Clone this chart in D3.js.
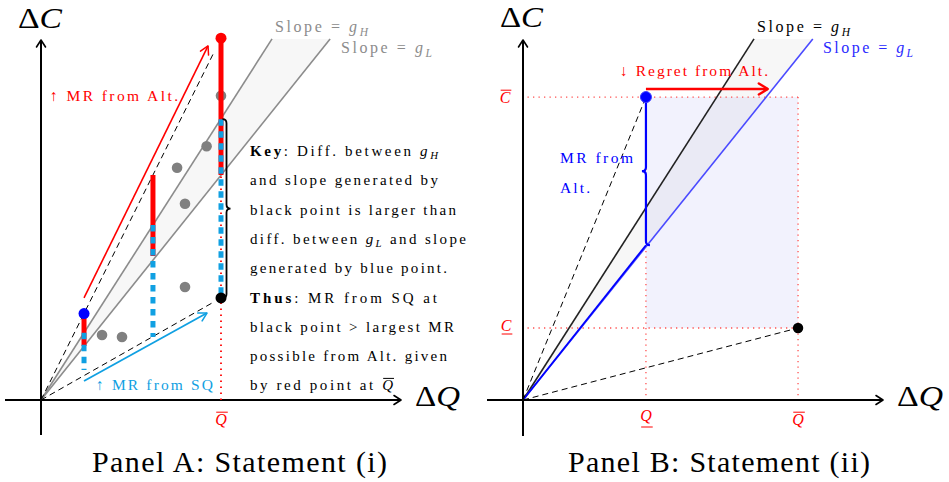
<!DOCTYPE html>
<html><head><meta charset="utf-8">
<script src="https://cdn.jsdelivr.net/npm/d3@7"></script>
<style>body{margin:0;background:#fff}svg{display:block}text{white-space:pre;font-family:"Liberation Serif","DejaVu Serif",serif}</style>
</head><body><svg id="c" width="949" height="482"></svg>
<script>
// ---------------- Data ----------------
const slopeLabels = ["H", "L"];
const slopesA = [1.563, 1.249];          // g_H, g_L in panel A
const slopesB = [1.563, 1.246];          // g_H, g_L in panel B
const lineTopC = 20.06;                  // where the slope lines stop
// Panel A
const qBarA = [2.39, 6.22, 10];
const redTopA = [4.8, 12.5, 20.1];
const redBottomA = [3.0, 8.0, 12.5];
const blueTopA = [3.74, 9.72, 15.6];
const blueBottomA = [1.67, 3.5, 5.67];
const grayQ = [10, 9.2, 7.56, 8.0, 8.0, 3.39, 4.5];
const grayC = [16.9, 14.1, 12.9, 10.9, 6.28, 3.61, 3.5];
const redPointA = [10, 20.1];
const bluePointA = [2.39, 4.8];
const blackPointA = [10, 5.67];
const mrAltArrow = [[2.39, 5.67], [9.28, 19.67]];
const mrSqArrow = [[2.39, 1.06], [9.22, 4.83]];
const qBarLabelA = 10;
const keyLines = [
  [{t:"Key", b:true}, ": Diff. between ", {t:"g", it:true}, {t:"H", it:true, sub:true}],
  ["and slope generated by"],
  ["black point is larger than"],
  ["diff. between ", {t:"g", it:true}, {t:"L", it:true, sub:true}, " and slope"],
  ["generated by blue point."],
  [{t:"Thus", b:true}, ": MR from SQ at"],
  ["black point > largest MR"],
  ["possible from Alt. given"],
  ["by red point at ", {t:"Q", it:true, over:true}]
];
const keyWidths = [188, 188, 206, 216, 197, 187, 204, 197, 143];
// Panel B
const qLowB = 6.83, qHighB = 15.28;
const cLowB = 4.0, cHighB = 16.83;
const bluePointB = [6.83, 16.83];
const blackPointB = [15.28, 4.0];
const mrAltB = [16.83, 8.6];
const regretArrow = [[6.83, 17.28], [13.6, 17.28]];

// ---------------- Setup ----------------
const svg = d3.select("#c");
const defs = svg.append("defs");
function marker(id, color, len, half, sw) {
  defs.append("marker").attr("id", id)
    .attr("viewBox", `${-len-2} ${-half-2} ${len+4} ${2*half+4}`)
    .attr("refX", 0).attr("refY", 0)
    .attr("markerWidth", len+4).attr("markerHeight", 2*half+4)
    .attr("markerUnits", "userSpaceOnUse").attr("orient", "auto")
    .append("path").attr("d", `M${-len},${-half} L0,0 L${-len},${half}`)
    .attr("fill", "none").attr("stroke", color).attr("stroke-width", sw)
    .attr("stroke-linecap", "round").attr("stroke-linejoin", "round");
}
marker("axArr", "#000", 7, 4.5, 1.6);
marker("redArr", "#ff0000", 8, 4.5, 1.5);
marker("cyanArr", "#10a0e2", 8, 4.5, 1.6);
marker("redArrB", "#ff0000", 9, 5.5, 2.4);

function rich(g, x, y, parts, o) {
  const t = g.append("text").attr("x", x).attr("y", y)
    .style("font-size", o.size + "px")
    .attr("fill", o.color || "#000");
  if (o.anchor) t.attr("text-anchor", o.anchor);
  let shift = 0, idx = 0;
  const marks = [];
  parts.forEach(p => {
    const s = typeof p === "string" ? {t: p} : p;
    const target = s.sub ? o.size * 0.22 : 0;
    const ts = t.append("tspan").text(s.t).attr("dy", target - shift);
    shift = target;
    if (s.it) ts.style("font-style", "italic");
    if (s.b) ts.style("font-weight", "bold");
    if (s.sub) ts.style("font-size", (o.size * 0.72) + "px");
    if (s.over || s.under) marks.push({i: idx, over: !!s.over});
    idx += [...s.t].length;
  });
  if (o.width) t.attr("textLength", o.width).attr("lengthAdjust", o.adjust || "spacing");
  marks.forEach(m => {
    const e = t.node().getExtentOfChar(m.i);
    const ly = m.over ? y - o.size * 0.8 : y + (o.ul || o.size * 0.22);
    g.append("line").attr("x1", e.x + 1).attr("x2", e.x + e.width + 1)
      .attr("y1", ly).attr("y2", ly)
      .attr("stroke", o.color || "#000").attr("stroke-width", 1);
  });
  return t;
}

function brace(x, y1, y2, d, w) {
  const ym = (y1 + y2) / 2;
  return `M${x - d*w},${y1} Q${x},${y1} ${x},${y1 + w} L${x},${ym - w} Q${x},${ym} ${x + d*w},${ym} ` +
         `Q${x},${ym} ${x},${ym + w} L${x},${y2 - w} Q${x},${y2} ${x - d*w},${y2}`;
}

function axes(g, x, y, xmin, ymin) {
  g.append("line").attr("x1", x(xmin)).attr("x2", x(20)).attr("y1", y(0)).attr("y2", y(0))
    .attr("stroke", "#000").attr("stroke-width", 2).attr("marker-end", "url(#axArr)");
  g.append("line").attr("x1", x(0)).attr("x2", x(0)).attr("y1", y(ymin)).attr("y2", y(20))
    .attr("stroke", "#000").attr("stroke-width", 2).attr("marker-end", "url(#axArr)");
}

// ---------------- Panel A ----------------
const xA = d3.scaleLinear().domain([0, 20]).range([41, 401]);
const yA = d3.scaleLinear().domain([0, 20]).range([400, 40]);
const gA = svg.append("g");

gA.append("path")
  .attr("d", d3.line()([[xA(0), yA(0)], [xA(lineTopC / slopesA[0]), yA(lineTopC)], [xA(lineTopC / slopesA[1]), yA(lineTopC)]]) + "Z")
  .attr("fill", "#f7f7f7");
slopesA.forEach(s => {
  gA.append("line").attr("x1", xA(0)).attr("y1", yA(0))
    .attr("x2", xA(lineTopC / s)).attr("y2", yA(lineTopC))
    .attr("stroke", "#8c8c8c").attr("stroke-width", 1.6);
});
[redPointA, blackPointA].forEach((p, i) => {
  const f = i === 0 ? 0.955 : 0.96;
  gA.append("line").attr("x1", xA(0)).attr("y1", yA(0))
    .attr("x2", xA(p[0] * f)).attr("y2", yA(p[1] * f))
    .attr("stroke", "#000").attr("stroke-width", 1).attr("stroke-dasharray", "6,4");
});
axes(gA, xA, yA, -2, -1.94);
gA.append("line").attr("x1", xA(qBarLabelA)).attr("x2", xA(qBarLabelA))
  .attr("y1", yA(0)).attr("y2", yA(redPointA[1]))
  .attr("stroke", "#ff0000").attr("stroke-width", 1.8).attr("stroke-dasharray", "1.5,4.5");
gA.selectAll(".gd").data(grayQ).enter().append("circle")
  .attr("cx", (d) => xA(d)).attr("cy", (d, i) => yA(grayC[i])).attr("r", 5.3).attr("fill", "#808080");
qBarA.forEach((q, i) => {
  gA.append("line").attr("x1", xA(q)).attr("x2", xA(q))
    .attr("y1", yA(redTopA[i])).attr("y2", yA(redBottomA[i]))
    .attr("stroke", "#ff0000").attr("stroke-width", 5);
});
qBarA.forEach((q, i) => {
  gA.append("line").attr("x1", xA(q)).attr("x2", xA(q))
    .attr("y1", yA(blueTopA[i])).attr("y2", yA(blueBottomA[i]))
    .attr("stroke", "#10a0e2").attr("stroke-width", 5).attr("stroke-dasharray", "6.5,5.5");
});
gA.append("path").attr("d", brace(xA(qBarLabelA) + 5.5, yA(blueTopA[2]), yA(blackPointA[1]), 1, 4))
  .attr("fill", "none").attr("stroke", "#000").attr("stroke-width", 1.8);
gA.append("circle").attr("cx", xA(redPointA[0])).attr("cy", yA(redPointA[1])).attr("r", 5.5).attr("fill", "#ff0000");
gA.append("circle").attr("cx", xA(bluePointA[0])).attr("cy", yA(bluePointA[1])).attr("r", 5.5).attr("fill", "#0000ff");
gA.append("circle").attr("cx", xA(blackPointA[0])).attr("cy", yA(blackPointA[1])).attr("r", 5.5).attr("fill", "#000");
gA.append("line").attr("x1", xA(mrAltArrow[0][0])).attr("y1", yA(mrAltArrow[0][1]))
  .attr("x2", xA(mrAltArrow[1][0])).attr("y2", yA(mrAltArrow[1][1]))
  .attr("stroke", "#ff0000").attr("stroke-width", 1.6).attr("marker-end", "url(#redArr)");
gA.append("line").attr("x1", xA(mrSqArrow[0][0])).attr("y1", yA(mrSqArrow[0][1]))
  .attr("x2", xA(mrSqArrow[1][0])).attr("y2", yA(mrSqArrow[1][1]))
  .attr("stroke", "#10a0e2").attr("stroke-width", 1.8).attr("marker-end", "url(#cyanArr)");
rich(gA, 18, 28, ["Δ", {t:"C", it:true}], {size: 29, width: 44, adjust: "spacingAndGlyphs"});
rich(gA, 415, 406, ["Δ", {t:"Q", it:true}], {size: 29, width: 45, adjust: "spacingAndGlyphs"});
rich(gA, 275, 32, ["Slope = ", {t:"g", it:true}, {t:slopeLabels[0], it:true, sub:true}], {size: 16, width: 93, color: "#8c8c8c"});
rich(gA, 341, 53, ["Slope = ", {t:"g", it:true}, {t:slopeLabels[1], it:true, sub:true}], {size: 16, width: 91, color: "#8c8c8c"});
rich(gA, 50, 101, ["↑ MR from Alt."], {size: 15.5, width: 128, color: "#ff0000"});
rich(gA, 96, 390, ["↑ MR from SQ"], {size: 15.5, width: 117, color: "#10a0e2"});
keyLines.forEach((ln, i) => {
  rich(gA, 250, 156 + i * 29.3, ln, {size: 15, width: keyWidths[i]});
});
rich(gA, xA(qBarLabelA), 425, [{t:"Q", it:true, over:true}], {size: 16, anchor: "middle", color: "#ff0000"});
rich(gA, 92, 472, ["Panel A: Statement (i)"], {size: 30, width: 295});

// ---------------- Panel B ----------------
const xB = d3.scaleLinear().domain([0, 20]).range([523, 883]);
const yB = d3.scaleLinear().domain([0, 20]).range([400, 40]);
const gB = svg.append("g");

gB.append("rect").attr("x", xB(qLowB)).attr("y", yB(cHighB))
  .attr("width", xB(qHighB) - xB(qLowB)).attr("height", yB(cLowB) - yB(cHighB))
  .attr("fill", "#f2f2fd");
gB.append("path")
  .attr("d", d3.line()([[xB(0), yB(0)], [xB(lineTopC / slopesB[0]), yB(lineTopC)], [xB(lineTopC / slopesB[1]), yB(lineTopC)]]) + "Z")
  .attr("fill", "rgba(0,0,0,0.03)");
const dotted = (x1, y1, x2, y2) => gB.append("line").attr("x1", x1).attr("y1", y1).attr("x2", x2).attr("y2", y2)
  .attr("stroke", "#ff5050").attr("stroke-width", 1.3).attr("stroke-dasharray", "1.3,4.2");
dotted(xB(0.25), yB(cHighB), xB(qHighB), yB(cHighB));
dotted(xB(0.25), yB(cLowB), xB(qHighB), yB(cLowB));
dotted(xB(qLowB), yB(cHighB), xB(qLowB), yB(0));
dotted(xB(qHighB), yB(cHighB), xB(qHighB), yB(0));
gB.append("line").attr("x1", xB(0)).attr("y1", yB(0)).attr("x2", xB(lineTopC / slopesB[0])).attr("y2", yB(lineTopC))
  .attr("stroke", "#222").attr("stroke-width", 1.6);
gB.append("line").attr("x1", xB(0)).attr("y1", yB(0)).attr("x2", xB(lineTopC / slopesB[1])).attr("y2", yB(lineTopC))
  .attr("stroke", "#4a4aff").attr("stroke-width", 1.6);
gB.append("line").attr("x1", xB(0)).attr("y1", yB(0)).attr("x2", xB(qLowB)).attr("y2", yB(mrAltB[1]))
  .attr("stroke", "#0000ff").attr("stroke-width", 1.8);
[bluePointB, blackPointB].forEach(p => {
  gB.append("line").attr("x1", xB(0)).attr("y1", yB(0)).attr("x2", xB(p[0])).attr("y2", yB(p[1]))
    .attr("stroke", "#000").attr("stroke-width", 1).attr("stroke-dasharray", "6,4");
});
axes(gB, xB, yB, -2, -2);
gB.append("path").attr("d", brace(xB(qLowB), yB(mrAltB[0]), yB(mrAltB[1]), -1, 4))
  .attr("fill", "none").attr("stroke", "#0000ff").attr("stroke-width", 2.2);
gB.append("line").attr("x1", xB(regretArrow[0][0])).attr("y1", yB(regretArrow[0][1]))
  .attr("x2", xB(regretArrow[1][0])).attr("y2", yB(regretArrow[1][1]))
  .attr("stroke", "#ff0000").attr("stroke-width", 2.6).attr("marker-end", "url(#redArrB)");
gB.append("circle").attr("cx", xB(bluePointB[0])).attr("cy", yB(bluePointB[1])).attr("r", 5.5)
  .attr("fill", "#0000ff").attr("stroke", "#3a3aff").attr("stroke-width", 1);
gB.append("circle").attr("cx", xB(blackPointB[0])).attr("cy", yB(blackPointB[1])).attr("r", 5.2).attr("fill", "#000");
rich(gB, 500, 27, ["Δ", {t:"C", it:true}], {size: 29, width: 43, adjust: "spacingAndGlyphs"});
rich(gB, 897, 406, ["Δ", {t:"Q", it:true}], {size: 29, width: 46, adjust: "spacingAndGlyphs"});
rich(gB, 757, 32, ["Slope = ", {t:"g", it:true}, {t:slopeLabels[0], it:true, sub:true}], {size: 16, width: 93, color: "#000"});
rich(gB, 823, 53, ["Slope = ", {t:"g", it:true}, {t:slopeLabels[1], it:true, sub:true}], {size: 16, width: 90, color: "#2a2aff"});
rich(gB, 620, 76, ["↓ Regret from Alt."], {size: 15.5, width: 148, color: "#ff0000"});
rich(gB, 560, 163, ["MR from"], {size: 15.5, width: 73, color: "#0000ff"});
rich(gB, 560, 193, ["Alt."], {size: 15.5, width: 30, color: "#0000ff"});
rich(gB, 505, 103, [{t:"C", it:true, over:true}], {size: 16, anchor: "middle", color: "#ff0000"});
rich(gB, 506, 331, [{t:"C", it:true, under:true}], {size: 16, anchor: "middle", color: "#ff0000", ul: 3});
rich(gB, xB(qLowB), 421, [{t:"Q", it:true, under:true}], {size: 16, anchor: "middle", color: "#ff0000", ul: 6});
rich(gB, xB(qHighB), 425, [{t:"Q", it:true, over:true}], {size: 16, anchor: "middle", color: "#ff0000"});
rich(gB, 568, 472, ["Panel B: Statement (ii)"], {size: 30, width: 302});
</script></body></html>
